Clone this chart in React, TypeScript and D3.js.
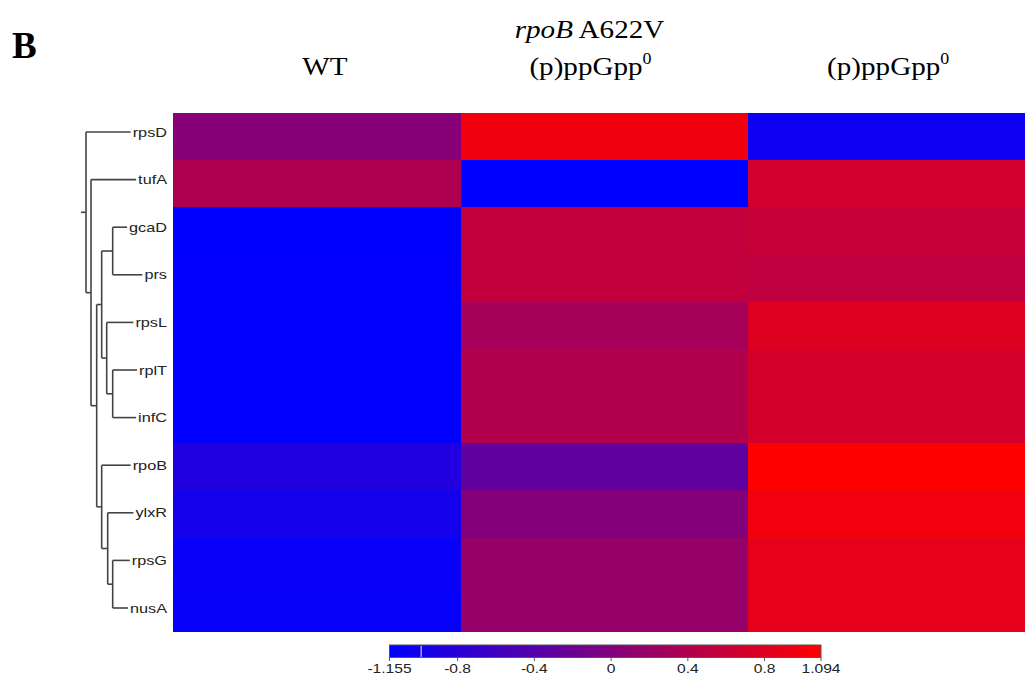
import React, { useEffect, useRef } from 'react';
import * as d3 from 'd3';

const genes = ['rpsD', 'tufA', 'gcaD', 'prs', 'rpsL', 'rplT', 'infC', 'rpoB', 'ylxR', 'rpsG', 'nusA'];
const strains = ['WT', 'A622V', 'ppGpp0'];

// expression per strain, in gene order
const wtValues = [0.044, 0.379, -1.155, -1.15, -1.15, -1.15, -1.15, -0.873, -0.979, -1.084, -1.09];
const a622vValues = [0.96, -1.155, 0.556, 0.556, 0.309, 0.415, 0.42, -0.308, 0.009, 0.168, 0.17];
const ppgppValues = [-1.03, 0.697, 0.591, 0.521, 0.803, 0.715, 0.71, 1.094, 0.98, 0.873, 0.87];

const legendTicks = [-1.155, -0.8, -0.4, 0, 0.4, 0.8, 1.094];
const colorDomain = [-1.155, 1.094];
const markerValue = -0.99;

// dendrogram: merge distance + children (leaf names or nested nodes)
type Node = { d: number; children: (Node | string)[] };
const tree: Node = {
  d: 1.0,
  children: [
    'rpsD',
    {
      d: 0.844,
      children: [
        'tufA',
        {
          d: 0.666,
          children: [
            {
              d: 0.51,
              children: [
                { d: 0.166, children: ['gcaD', 'prs'] },
                { d: 0.353, children: ['rpsL', { d: 0.166, children: ['rplT', 'infC'] }] },
              ],
            },
            {
              d: 0.51,
              children: [
                'rpoB',
                { d: 0.322, children: ['ylxR', { d: 0.166, children: ['rpsG', 'nusA'] }] },
              ],
            },
          ],
        },
      ],
    },
  ],
};

const W = 1025;
const H = 682;
const SX = 1.25; // horizontal text stretch seen in the figure
const HSX = 1.12; // header stretch

const App: React.FC = () => {
  const svgRef = useRef<SVGSVGElement>(null);

  useEffect(() => {
    if (!svgRef.current) return;
    const svg = d3.select(svgRef.current);
    svg.selectAll('*').remove();

    const x = d3.scaleBand().domain(strains).range([173, 1036]).padding(0);
    const y = d3.scaleBand().domain(genes).range([113, 632]).padding(0);
    const leafY = d3.scaleBand().domain(genes).range([108.2, 631.8]).padding(0);
    const color = d3.scaleLinear<string>().domain(colorDomain).range(['#0000ff', '#ff0000']).interpolate(d3.interpolateRgb).clamp(true);

    const cells: { g: string; s: string; v: number }[] = [];
    genes.forEach((g, i) => {
      cells.push({ g, s: 'WT', v: wtValues[i] });
      cells.push({ g, s: 'A622V', v: a622vValues[i] });
      cells.push({ g, s: 'ppGpp0', v: ppgppValues[i] });
    });

    svg.append('g')
      .attr('shape-rendering', 'crispEdges')
      .selectAll('rect')
      .data(cells)
      .enter()
      .append('rect')
      .attr('x', d => Math.round(x(d.s)!))
      .attr('y', d => Math.round(y(d.g)!))
      .attr('width', d => Math.round(x(d.s)! + x.bandwidth()) - Math.round(x(d.s)!))
      .attr('height', d => Math.round(y(d.g)! + y.bandwidth()) - Math.round(y(d.g)!))
      .attr('fill', d => color(d.v));

    // headers
    const hdr = svg.append('g').attr('font-family', '"Liberation Serif", "Times New Roman", serif').attr('fill', '#000');
    const addText = (px: number, py: number, fs: number) =>
      hdr.append('text')
        .attr('transform', `translate(${px},${py}) scale(${HSX},1)`)
        .attr('text-anchor', 'middle')
        .attr('font-size', fs);

    addText(x('WT')! + x.bandwidth() / 2 + 8, 75, 26).text('WT');
    const t1 = addText(x('A622V')! + x.bandwidth() / 2 - 15, 38, 26);
    t1.append('tspan').attr('font-style', 'italic').text('rpoB');
    t1.append('tspan').text(' A622V');
    [['A622V', -14], ['ppGpp0', -4]].forEach(([s, off]) => {
      const t = addText(x(s as string)! + x.bandwidth() / 2 + (off as number), 75, 26);
      t.append('tspan').text('(p)ppGpp');
      t.append('tspan').attr('font-size', 16).attr('dy', -11).text('0');
    });

    svg.append('text')
      .attr('x', 12)
      .attr('y', 58)
      .attr('font-family', '"Liberation Serif", "Times New Roman", serif')
      .attr('font-weight', 'bold')
      .attr('font-size', 37)
      .text('B');

    // dendrogram
    const dx = d3.scaleLinear().domain([1, 0]).range([86, 118]);
    const dg = svg.append('g').attr('stroke', '#444').attr('stroke-width', 1.6).attr('fill', 'none');
    const labelRight = 167;
    const lg = svg.append('g').attr('font-family', '"Liberation Sans", Arial, sans-serif').attr('font-size', 13).attr('fill', '#222');

    const layout = (n: Node | string): number => {
      if (typeof n === 'string') return leafY(n)! + leafY.bandwidth() / 2;
      const ys = n.children.map(layout);
      const nx = dx(n.d);
      dg.append('line').attr('x1', nx).attr('x2', nx).attr('y1', ys[0]).attr('y2', ys[ys.length - 1]);
      n.children.forEach((c, i) => {
        if (typeof c === 'string') {
          const txt = lg.append('text')
            .attr('transform', `translate(${labelRight},${ys[i] + 4.5}) scale(${SX},1)`)
            .attr('text-anchor', 'end')
            .text(c);
          const w = (txt.node() as SVGTextElement).getComputedTextLength() * SX;
          dg.append('line').attr('x1', nx).attr('x2', labelRight - w - 2).attr('y1', ys[i]).attr('y2', ys[i]);
        } else {
          dg.append('line').attr('x1', nx).attr('x2', dx(c.d)).attr('y1', ys[i]).attr('y2', ys[i]);
        }
      });
      return (ys[0] + ys[ys.length - 1]) / 2;
    };
    const rootY = layout(tree);
    dg.append('line').attr('x1', 81).attr('x2', dx(tree.d)).attr('y1', rootY).attr('y2', rootY);

    // colour legend
    const lx = d3.scaleLinear().domain(colorDomain).range([389.5, 821]);
    const defs = svg.append('defs');
    const grad = defs.append('linearGradient').attr('id', 'lg').attr('x1', '0%').attr('x2', '100%');
    grad.append('stop').attr('offset', '0%').attr('stop-color', color(colorDomain[0]));
    grad.append('stop').attr('offset', '100%').attr('stop-color', color(colorDomain[1]));
    svg.append('rect')
      .attr('x', lx(colorDomain[0]))
      .attr('y', 645)
      .attr('width', lx(colorDomain[1]) - lx(colorDomain[0]))
      .attr('height', 12.5)
      .attr('fill', 'url(#lg)')
      .attr('stroke', '#555')
      .attr('stroke-width', 1);
    svg.append('line')
      .attr('x1', lx(markerValue)).attr('x2', lx(markerValue))
      .attr('y1', 646).attr('y2', 657)
      .attr('stroke', '#c8c8ff').attr('stroke-width', 1.2);

    const tg = svg.append('g').attr('font-family', '"Liberation Sans", Arial, sans-serif').attr('font-size', 12.5).attr('fill', '#222');
    legendTicks.forEach(t => {
      tg.append('line').attr('x1', lx(t)).attr('x2', lx(t)).attr('y1', 657.5).attr('y2', 661).attr('stroke', '#555');
      tg.append('text')
        .attr('transform', `translate(${lx(t)},${672.5}) scale(${SX},1)`)
        .attr('text-anchor', 'middle')
        .text(String(t));
    });
  }, []);

  return (
    <svg
      ref={svgRef}
      width={W}
      height={H}
      style={{ position: 'absolute', left: 0, top: 0, background: '#fff' }}
    />
  );
};

export default App;
